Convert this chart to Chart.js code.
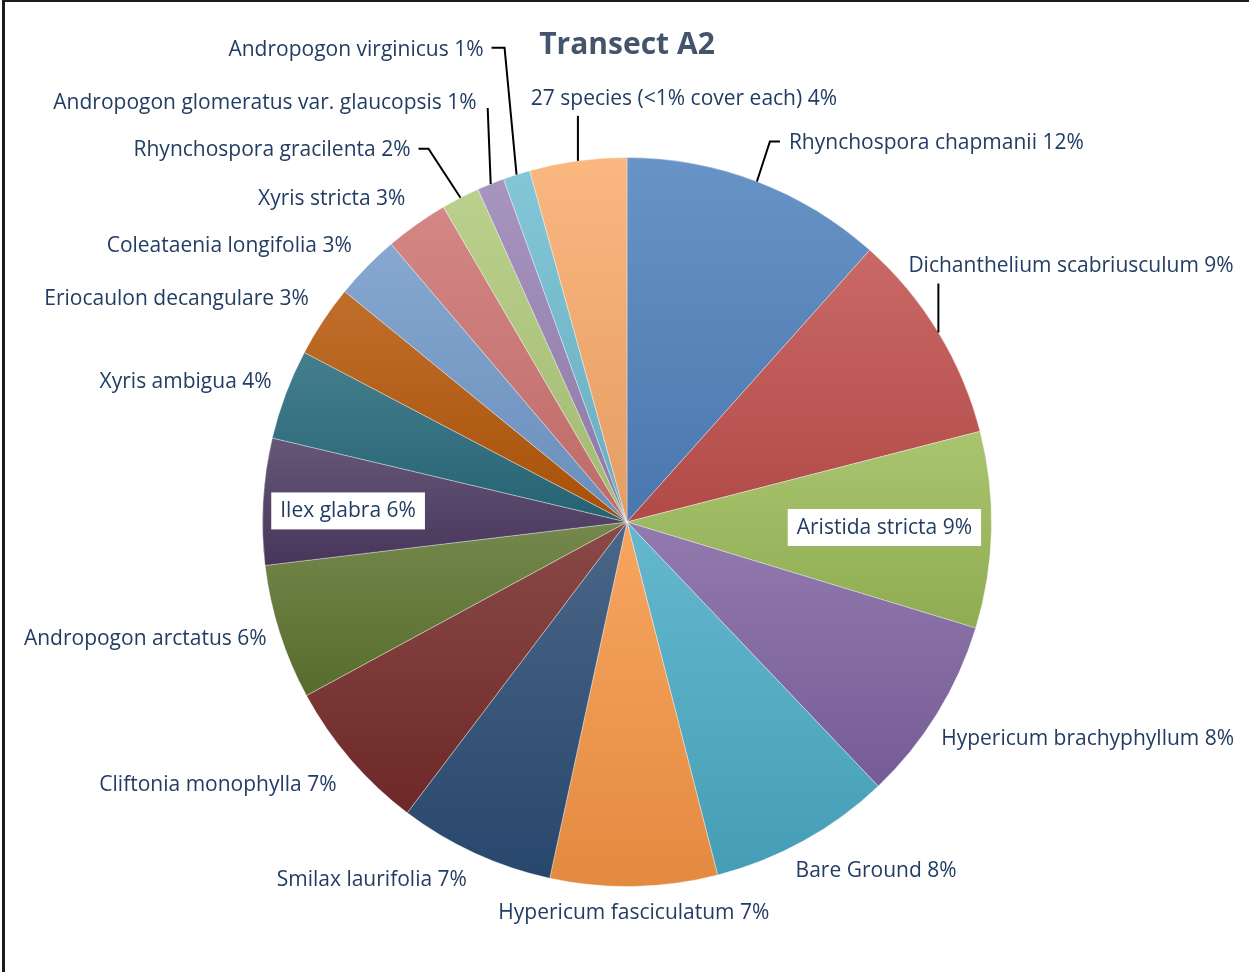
<!DOCTYPE html>
<html>
<head>
<meta charset="utf-8">
<title>Transect A2</title>
<script src="https://cdn.jsdelivr.net/npm/chart.js@4.4.1/dist/chart.umd.min.js"></script>
<style>
  html, body { margin: 0; padding: 0; background: #fff; }
  #wrap { position: relative; width: 1249px; height: 972px; overflow: hidden; }
  #frame { position: absolute; left: 2px; top: 0; right: -10px; bottom: -10px;
           border-left: 3px solid #1c1c1c; border-top: 2px solid #1c1c1c; pointer-events: none; }
  canvas { position: absolute; left: 0; top: 0; }
</style>
</head>
<body>
<div id="wrap">
  <canvas id="pie" width="1249" height="972"></canvas>
  <div id="frame"></div>
</div>
<script>
const species = [
  'Rhynchospora chapmanii', 'Dichanthelium scabriusculum', 'Aristida stricta',
  'Hypericum brachyphyllum', 'Bare Ground', 'Hypericum fasciculatum',
  'Smilax laurifolia', 'Cliftonia monophylla', 'Andropogon arctatus',
  'Ilex glabra', 'Xyris ambigua', 'Eriocaulon decangulare',
  'Coleataenia longifolia', 'Xyris stricta', 'Rhynchospora gracilenta',
  'Andropogon glomeratus var. glaucopsis', 'Andropogon virginicus',
  '27 species (<1% cover each)'
];
const cover = [11.6, 9.4, 8.7, 8.2, 8.1, 7.4, 6.9, 6.8, 6.0, 5.6, 4.0, 3.2, 2.9, 2.8, 1.7, 1.2, 1.2, 4.3];

const sliceColors = [
  '#4F81BD', '#C0504D', '#9BBB59', '#8064A2', '#4BACC6', '#F79646',
  '#2C4D75', '#772C2A', '#5F7530', '#4D3B62', '#276A7C', '#B65708',
  '#729ACA', '#CD7371', '#AFC97A', '#9983B5', '#6FBDD1', '#F9AB6B'
];

// label placement, offsets from the slice's outer edge at its mid angle
const labelLayout = [
  { dx: 32, dy: -39, align: 'left', leader: [[13, -40], [23, -40]] },
  { dx: -30, dy: -68, align: 'left', leader: [[0, -49]] },
  { dx: -107, dy: -3, align: 'center', box: true },
  { dx: 4, dy: 25, align: 'left' },
  { dx: -8, dy: 29, align: 'left' },
  { dx: 0, dy: 26, align: 'center' },
  { dx: -8, dy: 26, align: 'right' },
  { dx: -14, dy: 24, align: 'right' },
  { dx: -13, dy: 6, align: 'right' },
  { dx: 85, dy: 9, align: 'center', box: true },
  { dx: -14, dy: -13, align: 'right' },
  { dx: -14, dy: -23, align: 'right' },
  { dx: -15, dy: -22, align: 'right' },
  { dx: -11, dy: -26, align: 'right' },
  { dx: -50, dy: -49, align: 'right', leader: [[-32, -49], [-42, -49]] },
  { dx: -14, dy: -82, align: 'right', leader: [[-3, -76]] },
  { dx: -33, dy: -126, align: 'right', leader: [[-12, -127], [-25, -127]] },
  { dx: 106, dy: -63, align: 'center', leader: [[0, -45]] }
];

const labelFont = '21px "Open Sans", sans-serif';
const labelColor = '#223D63';
const total = cover.reduce((a, b) => a + b, 0);

function mix(hex, target, t) {
  const n = parseInt(hex.slice(1), 16);
  const c = [(n >> 16) & 255, (n >> 8) & 255, n & 255];
  return 'rgb(' + c.map(v => Math.round(v + (target - v) * t)).join(',') + ')';
}

// vertical gradient over each slice's own height, lighter on top
function sliceFill(context) {
  const i = context.dataIndex;
  const chart = context.chart;
  const area = chart.chartArea;
  const base = sliceColors[i];
  if (!area) return base;
  const cx = (area.left + area.right) / 2;
  const cy = (area.top + area.bottom) / 2;
  const r = Math.min(area.width, area.height) / 2;
  let before = 0;
  for (let k = 0; k < i; k++) before += cover[k];
  const a0 = -Math.PI / 2 + before / total * 2 * Math.PI;
  const a1 = a0 + cover[i] / total * 2 * Math.PI;
  const ys = [cy, cy + r * Math.sin(a0), cy + r * Math.sin(a1)];
  [-Math.PI / 2, Math.PI / 2, 3 * Math.PI / 2].forEach(t => {
    if (t > a0 && t < a1) ys.push(cy + r * Math.sin(t));
  });
  const g = chart.ctx.createLinearGradient(0, Math.min(...ys), 0, Math.max(...ys));
  g.addColorStop(0, mix(base, 255, 0.14));
  g.addColorStop(1, mix(base, 0, 0.08));
  return g;
}

function labelText(i) {
  return species[i] + ' ' + Math.round(cover[i] / total * 100) + '%';
}

const sliceLabels = {
  id: 'sliceLabels',
  afterDatasetsDraw(chart) {
    const ctx = chart.ctx;
    const meta = chart.getDatasetMeta(0);
    ctx.save();
    ctx.font = labelFont;
    ctx.textBaseline = 'middle';
    meta.data.forEach((arc, i) => {
      const lay = labelLayout[i];
      const mid = (arc.startAngle + arc.endAngle) / 2;
      const ex = arc.x + Math.cos(mid) * arc.outerRadius;
      const ey = arc.y + Math.sin(mid) * arc.outerRadius;
      if (lay.leader) {
        ctx.beginPath();
        ctx.moveTo(ex, ey);
        lay.leader.forEach(p => ctx.lineTo(ex + p[0], ey + p[1]));
        ctx.strokeStyle = '#000';
        ctx.lineWidth = 2;
        ctx.stroke();
      }
      const text = labelText(i);
      const tx = ex + lay.dx;
      const ty = ey + lay.dy + 1;
      if (lay.box) {
        const w = ctx.measureText(text).width + 18;
        ctx.fillStyle = '#fff';
        ctx.fillRect(tx - w / 2, ty - 19, w, 37);
      }
      ctx.textAlign = lay.align;
      ctx.fillStyle = labelColor;
      ctx.fillText(text, tx, ty);
    });
    ctx.restore();
  }
};

new Chart(document.getElementById('pie'), {
  type: 'pie',
  data: {
    labels: species,
    datasets: [{
      data: cover,
      backgroundColor: sliceFill,
      borderColor: 'rgba(255,255,255,0.35)',
      borderWidth: 1
    }]
  },
  options: {
    responsive: false,
    animation: false,
    devicePixelRatio: 1,
    layout: { padding: { top: 0, bottom: 85, left: 262, right: 257 } },
    plugins: {
      legend: { display: false },
      tooltip: { enabled: false },
      title: {
        display: true,
        text: 'Transect A2',
        color: '#44546A',
        font: { family: '"Open Sans", sans-serif', size: 30, weight: 'bold' },
        padding: { top: 27, bottom: 94 }
      }
    }
  },
  plugins: [sliceLabels]
});
</script>
</body>
</html>
